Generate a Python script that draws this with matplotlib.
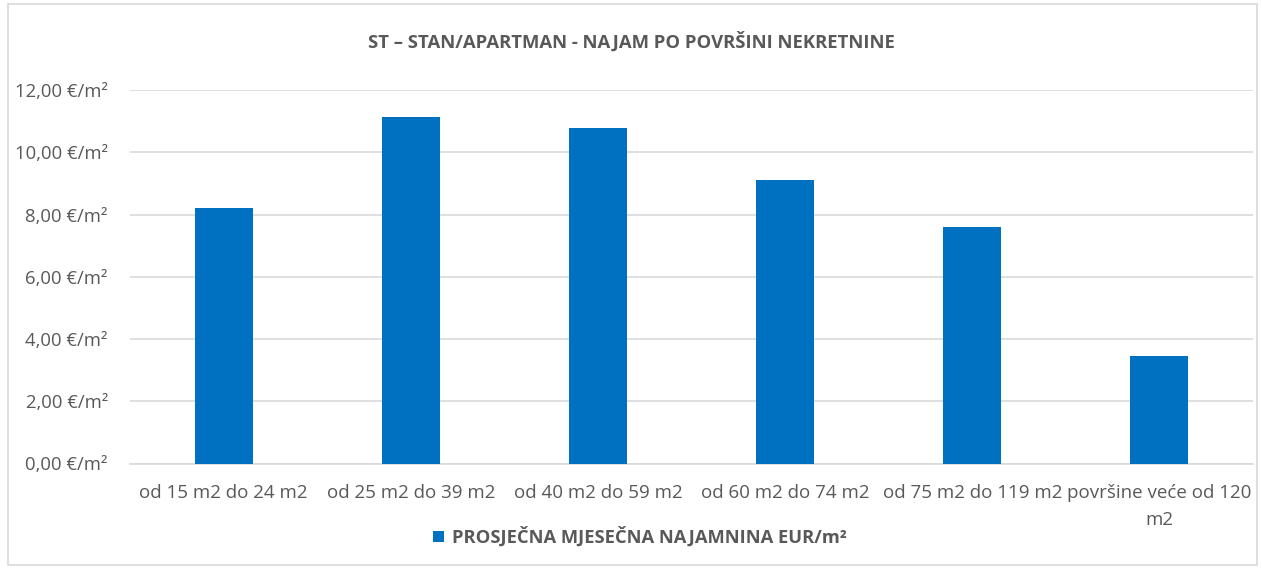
import matplotlib.pyplot as plt
from matplotlib.patches import Rectangle, Patch

# data
categories = ["od 15 m2 do 24 m2", "od 25 m2 do 39 m2", "od 40 m2 do 59 m2",
              "od 60 m2 do 74 m2", "od 75 m2 do 119 m2", "površine veće od 120\nm2"]
values = [8.22, 11.13, 10.79, 9.10, 7.59, 3.45]
y_ticks = [0, 2, 4, 6, 8, 10, 12]
series_name = "PROSJEČNA MJESEČNA NAJAMNINA EUR/m²"
title = "ST – STAN/APARTMAN - NAJAM PO POVRŠINI NEKRETNINE"

bar_color = "#0070C0"
text_color = "#595959"
grid_color = "#D9D9D9"

plt.rcParams['font.family'] = ['Open Sans', 'DejaVu Sans']

fig = plt.figure(figsize=(12.62, 5.69), dpi=100)
ax = fig.add_axes([130 / 1262, 1 - 463.5 / 569, 1123 / 1262, 373.5 / 569])

# chart frame
fig.patches.append(Rectangle((8 / 1262, 4 / 569), 1249 / 1262, 561 / 569,
                             transform=fig.transFigure, fill=False,
                             edgecolor=grid_color, linewidth=1.2))

x = range(len(categories))
ax.bar(x, values, width=0.31, color=bar_color, zorder=3)

ax.set_xlim(-0.5, len(categories) - 0.5)
ax.set_ylim(0, 12)
ax.set_yticks(y_ticks)
ax.set_yticklabels([f"{v:.2f}".replace(".", ",") + " €/m²" for v in y_ticks],
                   fontsize=13.3, color=text_color)
ax.set_xticks(list(x))
ax.set_xticklabels(categories, fontsize=13.5, color=text_color, linespacing=1.65,
                   va='top')
ax.tick_params(axis='both', length=0)
ax.tick_params(axis='y', pad=16)
ax.tick_params(axis='x', pad=15)

ax.grid(axis='y', color=grid_color, linewidth=1.2, zorder=0)
for s in ['top', 'right', 'left']:
    ax.spines[s].set_visible(False)
ax.spines['bottom'].set_color(grid_color)
ax.spines['bottom'].set_linewidth(1.2)

fig.text(0.5, 1 - 42 / 569, title, ha='center', va='center',
         fontsize=13.3, fontweight='bold', color=text_color)

handle = Patch(facecolor=bar_color, edgecolor='none')
fig.legend([handle], [series_name], loc='center',
           bbox_to_anchor=(640 / 1262, 1 - 537 / 569), frameon=False,
           prop={'size': 13.2, 'weight': 'bold'}, labelcolor=text_color,
           handlelength=0.6, handleheight=0.6, handletextpad=0.4)

fig.savefig("out.png", dpi=100)
